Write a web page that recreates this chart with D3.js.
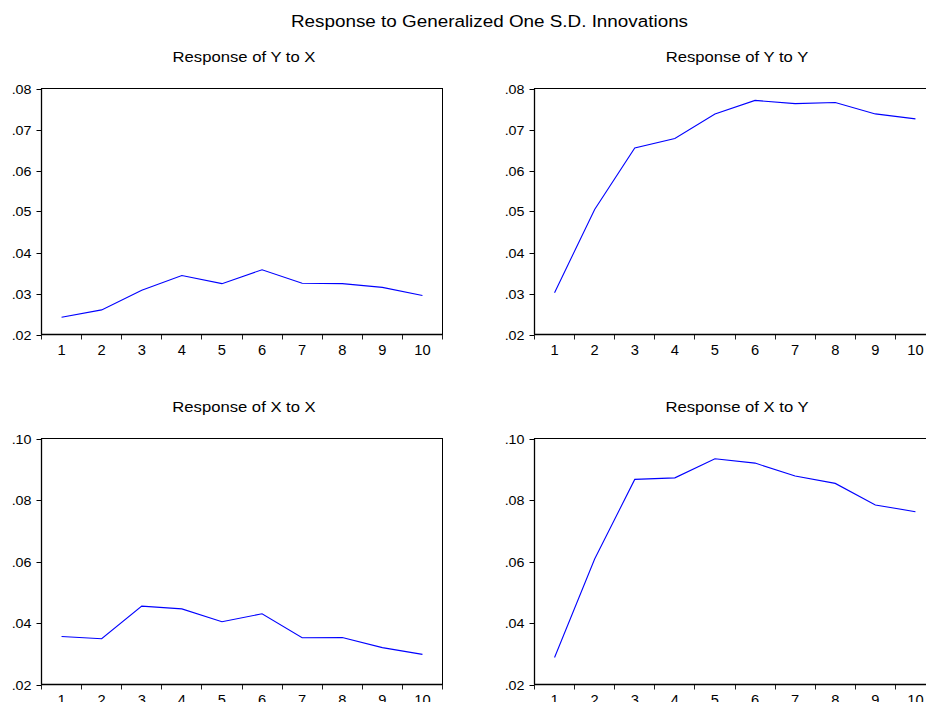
<!DOCTYPE html>
<html>
<head>
<meta charset="utf-8">
<script src="https://cdn.jsdelivr.net/npm/d3@7"></script>
<style>
  html, body { margin: 0; padding: 0; background: #fff; overflow: hidden; }
  svg { display: block; }
  text { font-family: "Liberation Sans", Arial, sans-serif; fill: #000; }
</style>
</head>
<body>
<svg id="chart" width="926" height="702"></svg>
<script>
// ---- Data ----
const mainTitle = "Response to Generalized One S.D. Innovations";
const periods = [1, 2, 3, 4, 5, 6, 7, 8, 9, 10];

const titleYX = "Response of Y to X";
const valuesYX = [0.0242, 0.0260, 0.0308, 0.0344, 0.0324, 0.0358, 0.0325, 0.0324, 0.0315, 0.0295];
const ticksYX = [0.02, 0.03, 0.04, 0.05, 0.06, 0.07, 0.08];

const titleYY = "Response of Y to Y";
const valuesYY = [0.0302, 0.0505, 0.0655, 0.0678, 0.0738, 0.0771, 0.0763, 0.0766, 0.0738, 0.0726];
const ticksYY = [0.02, 0.03, 0.04, 0.05, 0.06, 0.07, 0.08];

const titleXX = "Response of X to X";
const valuesXX = [0.0356, 0.0349, 0.0455, 0.0446, 0.0404, 0.0430, 0.0352, 0.0353, 0.0320, 0.0298];
const ticksXX = [0.02, 0.04, 0.06, 0.08, 0.10];

const titleXY = "Response of X to Y";
const valuesXY = [0.0288, 0.0608, 0.0867, 0.0872, 0.0934, 0.0920, 0.0878, 0.0854, 0.0784, 0.0762];
const ticksXY = [0.02, 0.04, 0.06, 0.08, 0.10];

// ---- Layout ----
const svg = d3.select("#chart");
const panelW = 401, panelH = 246;
const panels = [
  { title: titleYX, values: valuesYX, ticks: ticksYX, x0: 41.5, y0: 88.5 },
  { title: titleYY, values: valuesYY, ticks: ticksYY, x0: 534.5, y0: 88.5 },
  { title: titleXX, values: valuesXX, ticks: ticksXX, x0: 41.5, y0: 438.5 },
  { title: titleXY, values: valuesXY, ticks: ticksXY, x0: 534.5, y0: 438.5 }
];

const fmt = d => d3.format(".2f")(d).replace(/^0/, "");

svg.append("text")
  .attr("transform", "translate(489.5,27) scale(1.11,1)")
  .attr("text-anchor", "middle")
  .style("font-size", "17px")
  .text(mainTitle);

panels.forEach(p => {
  const g = svg.append("g");
  const x = d3.scaleBand().domain(periods).range([p.x0, p.x0 + panelW]);
  const y = d3.scaleLinear().domain([p.ticks[0], p.ticks[p.ticks.length - 1]])
    .range([p.y0 + panelH, p.y0]);

  // subtitle
  g.append("text")
    .attr("transform", `translate(${p.x0 + panelW / 2 + 2},${p.y0 - 26.5}) scale(1.19,1)`)
    .attr("text-anchor", "middle")
    .style("font-size", "14px")
    .text(p.title);

  // frame
  g.append("rect")
    .attr("x", p.x0).attr("y", p.y0)
    .attr("width", panelW).attr("height", panelH)
    .attr("fill", "none").attr("stroke", "#000").attr("stroke-width", 1);

  // y ticks
  const yt = g.selectAll(".yt").data(p.ticks).enter().append("g")
    .attr("transform", d => `translate(${p.x0},${Math.round(y(d)) + 0.5})`);
  yt.append("line").attr("x1", -5).attr("x2", 0).attr("stroke", "#000");
  yt.append("text")
    .attr("transform", "translate(-10,4.5) scale(1.1,1)")
    .attr("text-anchor", "end")
    .style("font-size", "13px")
    .text(fmt);

  // x ticks at band boundaries
  const bounds = periods.map(d => x(d)).concat([x.range()[1]]);
  g.selectAll(".xt").data(bounds).enter().append("line")
    .attr("x1", d => Math.round(d - 0.5) + 0.5).attr("x2", d => Math.round(d - 0.5) + 0.5)
    .attr("y1", p.y0 + panelH).attr("y2", p.y0 + panelH + 5)
    .attr("stroke", "#222");
  // bottom and left axes slightly heavier
  g.append("line")
    .attr("x1", p.x0).attr("x2", p.x0 + panelW)
    .attr("y1", p.y0 + panelH).attr("y2", p.y0 + panelH)
    .attr("stroke", "#000").attr("stroke-width", 1.3);
  g.append("line")
    .attr("x1", p.x0).attr("x2", p.x0)
    .attr("y1", p.y0).attr("y2", p.y0 + panelH)
    .attr("stroke", "#000").attr("stroke-width", 1.3);

  g.selectAll(".xl").data(periods).enter().append("text")
    .attr("transform", d => `translate(${x(d) + x.bandwidth() / 2},${p.y0 + panelH + 20}) scale(1.05,1)`)
    .attr("text-anchor", "middle")
    .style("font-size", "14px")
    .text(d => d);

  // series line
  const line = d3.line()
    .x((d, i) => x(periods[i]) + x.bandwidth() / 2)
    .y(d => y(d));
  g.append("path")
    .datum(p.values)
    .attr("d", line)
    .attr("fill", "none")
    .attr("stroke", "#0000ff")
    .attr("stroke-width", 1.1);
});
</script>
</body>
</html>
